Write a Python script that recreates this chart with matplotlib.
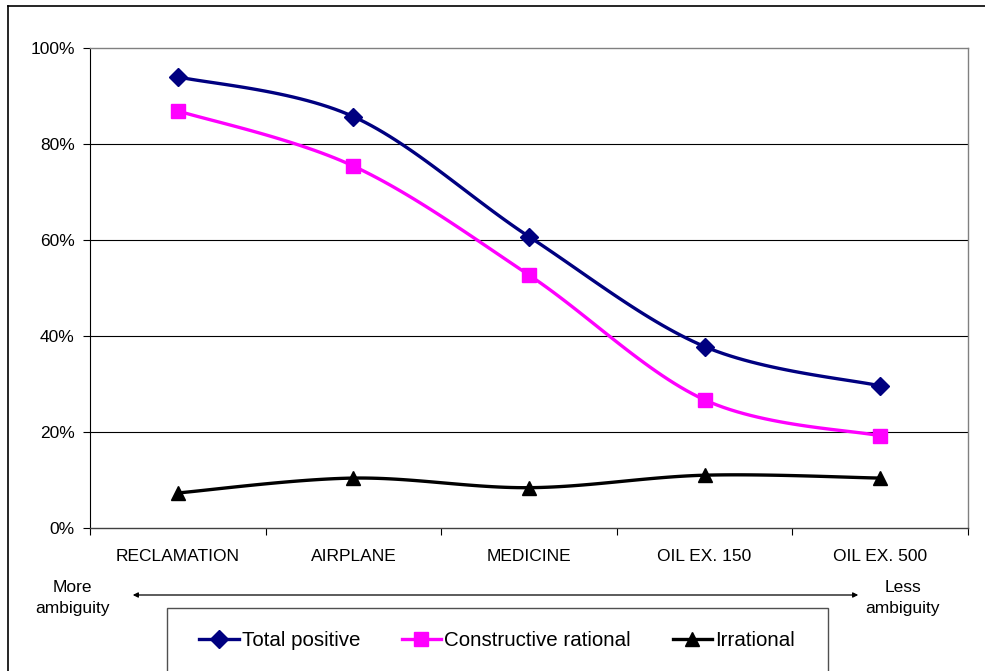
import numpy as np
import matplotlib
matplotlib.use("Agg")
import matplotlib.pyplot as plt
from matplotlib.lines import Line2D
from matplotlib.patches import Rectangle, FancyArrowPatch
from matplotlib import font_manager

names = {f.name for f in font_manager.fontManager.ttflist}
if "Liberation Sans Narrow" in names:
    FAM = ["Liberation Sans Narrow", "DejaVu Sans"]
    SC = 1.0
else:
    FAM = ["Liberation Sans", "DejaVu Sans"]
    SC = 0.82
plt.rcParams['font.family'] = FAM

categories = ["RECLAMATION", "AIRPLANE", "MEDICINE", "OIL EX. 150", "OIL EX. 500"]
total_positive = [94.0, 85.7, 60.7, 37.8, 29.6]
constructive_rational = [86.9, 75.4, 52.7, 26.7, 19.2]
irrational = [7.3, 10.4, 8.4, 11.0, 10.4]
y_ticks = [0, 20, 40, 60, 80, 100]
y_tick_labels = ["0%", "20%", "40%", "60%", "80%", "100%"]

W, H = 985, 671
fig = plt.figure(figsize=(W / 100, H / 100), dpi=100)
ax = fig.add_axes([90 / W, 1 - 528 / H, (968 - 90) / W, (528 - 48) / H])

FS = 15.3 * SC
LFS = 18.0 * SC


def smooth(xs, ys, n=30):
    # Bezier smoothing (Catmull-Rom style) through the given points
    P = np.column_stack([xs, ys]).astype(float)
    out = [P[0]]
    for i in range(len(P) - 1):
        p0 = P[i - 1] if i > 0 else P[i]
        p1 = P[i]
        p2 = P[i + 1]
        p3 = P[i + 2] if i + 2 < len(P) else P[i + 1]
        c1 = p1 + (p2 - p0) / 6.0
        c2 = p2 - (p3 - p1) / 6.0
        t = np.linspace(0, 1, n)[1:, None]
        seg = ((1 - t) ** 3) * p1 + 3 * ((1 - t) ** 2) * t * c1 + 3 * (1 - t) * t ** 2 * c2 + t ** 3 * p2
        out.extend(seg)
    out = np.array(out)
    return out[:, 0], out[:, 1]


x = np.arange(len(categories))
series = [
    ("Total positive", total_positive, "#000080", "D", 9.5),
    ("Constructive rational", constructive_rational, "#FF00FF", "s", 9.5),
    ("Irrational", irrational, "#000000", "^", 10),
]
handles = []
for name, vals, col, mk, ms in series:
    sx, sy = smooth(x, vals)
    ax.plot(sx, sy, color=col, lw=2.4, solid_capstyle="round", zorder=3)
    ax.plot(x, vals, linestyle="none", marker=mk, ms=ms, color=col, zorder=4)
    handles.append(Line2D([], [], color=col, lw=2.4, marker=mk, ms=ms))

ax.set_xlim(-0.5, len(categories) - 0.5)
ax.set_ylim(0, 100)
ax.set_yticks(y_ticks)
ax.set_yticklabels(y_tick_labels, fontsize=FS)
ax.set_xticks(x)
ax.set_xticklabels(categories, fontsize=FS)
ax.set_xticks(np.arange(len(categories) + 1) - 0.5, minor=True)
ax.tick_params(axis="x", which="major", length=0, pad=15)
ax.tick_params(axis="x", which="minor", length=5, width=0.8, direction="out")
ax.tick_params(axis="y", length=5, width=0.8, direction="out", pad=6)

for yv in y_ticks[1:-1]:
    ax.axhline(yv, color="black", lw=0.8, zorder=1)
for s in ["top", "right"]:
    ax.spines[s].set_color("#808080")
    ax.spines[s].set_linewidth(1.0)
ax.spines["left"].set_color("black")
ax.spines["left"].set_linewidth(0.8)
ax.spines["bottom"].set_color("#404040")
ax.spines["bottom"].set_linewidth(1.0)

# figure border (top and left)
fig.add_artist(Line2D([8 / W, 1.0], [1 - 5.5 / H, 1 - 5.5 / H], color="black", lw=1.2))
fig.add_artist(Line2D([8 / W, 8 / W], [0, 1 - 5.5 / H], color="black", lw=1.2))

# ambiguity arrow and labels
fig.add_artist(FancyArrowPatch((130 / W, 1 - 595 / H), (861 / W, 1 - 595 / H),
                               arrowstyle="<|-|>,head_length=3,head_width=1.5",
                               color="black", lw=0.9, transform=fig.transFigure))
fig.text(72 / W, 1 - 598 / H, "More\nambiguity", ha="center", va="center",
         fontsize=FS, linespacing=1.45)
fig.text(903 / W, 1 - 598 / H, "Less\nambiguity", ha="center", va="center",
         fontsize=FS, linespacing=1.45)

# legend box
fig.add_artist(Rectangle((167 / W, -0.05), (828 - 167) / W, 0.05 + (1 - 608 / H),
                         transform=fig.transFigure, facecolor="white",
                         edgecolor="#505050", lw=1.0))
leg = fig.legend(handles, [s[0] for s in series], loc="center",
                 bbox_to_anchor=(497 / W, 1 - 641 / H), ncol=3, frameon=False,
                 fontsize=LFS, handlelength=1.9 * 15 / LFS, handletextpad=0.15,
                 columnspacing=2.0 * 15 / LFS, borderaxespad=0)

fig.savefig("out.png", dpi=100)
